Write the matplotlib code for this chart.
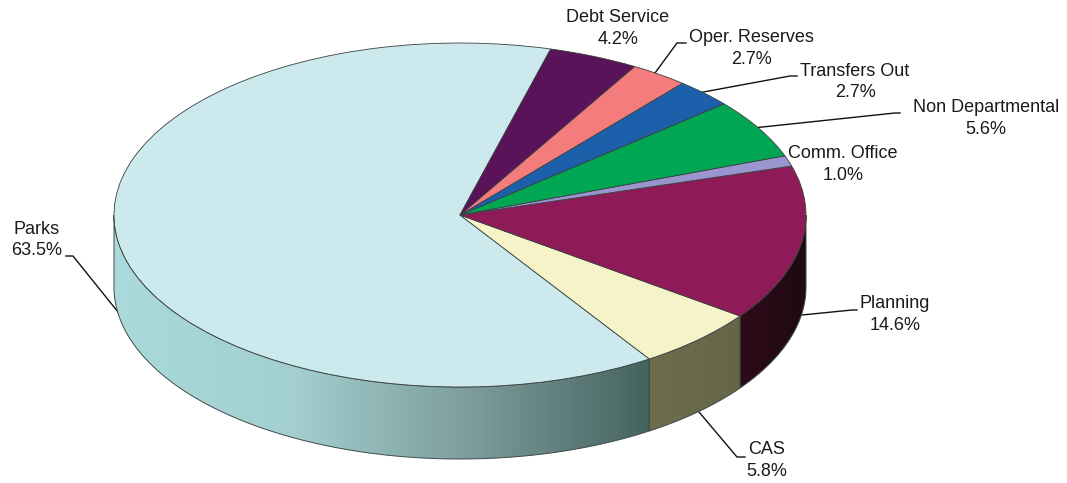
import numpy as np
import matplotlib
matplotlib.use("Agg")
import matplotlib.pyplot as plt
from matplotlib.colors import LinearSegmentedColormap
from matplotlib.patches import Polygon

plt.rcParams["font.family"] = ["Liberation Sans", "DejaVu Sans"]

departments = ["Parks", "CAS", "Planning", "Comm. Office", "Non Departmental",
               "Transfers Out", "Oper. Reserves", "Debt Service"]
shares = [63.5, 5.8, 14.6, 1.0, 5.6, 2.7, 2.7, 4.2]
top_colors = ["#cce9ee", "#f6f3c8", "#8e1b57", "#9b95cf", "#00a651",
              "#1c5fab", "#f47c7c", "#5a1259"]

# wall shading left to right for the slices that face the viewer
wall_colors = {
    "Parks": ["#aadadb", "#a3cfd0", "#7c9c9b", "#45635f"],
    "CAS": ["#6e6d4e", "#666547"],
    "Planning": ["#2e0b19", "#1f0a12"],
}

W, H = 1067, 483
CX, CY, RX, RY = 460, 215, 346, 172
DEPTH = 72
START = 74.8

# label centre x, first line y, leader polyline
label_layout = {
    "Parks": (37, 229, [(118, 312), (73, 256), (66, 256)]),
    "CAS": (767, 450, [(699, 412), (737, 457), (745, 457)]),
    "Planning": (895, 304, [(802, 315), (852, 310), (857, 310)]),
    "Comm. Office": (843, 154, None),
    "Non Departmental": (986, 108, [(753, 128), (895, 113), (900, 113)]),
    "Transfers Out": (855, 71, [(698, 93), (790, 76), (797, 76)]),
    "Oper. Reserves": (751, 38, [(655, 73), (677, 43), (686, 43)]),
    "Debt Service": (618, 18, None),
}

fig = plt.figure(figsize=(W / 100, H / 100), dpi=100)
ax = fig.add_axes([0, 0, 1, 1])
ax.set_xlim(0, W)
ax.set_ylim(H, 0)
ax.axis("off")

# side walls, only the part of the rim below the horizontal is visible
edges = START + np.cumsum([0] + shares) / sum(shares) * 360
for name, a0, a1 in zip(departments, edges[:-1], edges[1:]):
    if name not in wall_colors:
        continue
    t = np.radians(np.linspace(max(a0, 180), min(a1, 360), 200))
    x = CX + RX * np.cos(t)
    y = CY - RY * np.sin(t)
    pts = np.r_[np.c_[x, y], np.c_[x, y + DEPTH][::-1]]
    outline = Polygon(pts, closed=True, fc="none", ec="#3f4a4a", lw=0.7, zorder=3)
    ax.add_patch(outline)
    cmap = LinearSegmentedColormap.from_list(name, wall_colors[name])
    img = ax.imshow(np.linspace(0, 1, 256)[None, :], cmap=cmap, aspect="auto",
                    extent=(x.min(), x.max(), y.max() + DEPTH, y.min()), zorder=2)
    img.set_clip_path(outline)
ax.set_xlim(0, W)
ax.set_ylim(H, 0)

# top face: a pie stretched into the ellipse by its own axes
pie_ax = fig.add_axes([(CX - RX) / W, (H - CY - RY) / H, 2 * RX / W, 2 * RY / H])
pie_ax.pie(shares, colors=top_colors, startangle=START, radius=1,
           wedgeprops={"edgecolor": "#3a4040", "linewidth": 0.6, "clip_on": False})
pie_ax.set_aspect("auto")
pie_ax.set_xlim(-1, 1)
pie_ax.set_ylim(-1, 1)

# labels and leader lines
for name, share in zip(departments, shares):
    lx, ly, leader = label_layout[name]
    ax.text(lx, ly, name, ha="center", va="center", fontsize=13, color="#1a1a1a")
    ax.text(lx, ly + 21.5, f"{share:.1f}%", ha="center", va="center", fontsize=13,
            color="#1a1a1a")
    if leader:
        ax.plot(*zip(*leader), color="#111111", lw=1.0, zorder=1)

fig.savefig("out.png", dpi=100)
